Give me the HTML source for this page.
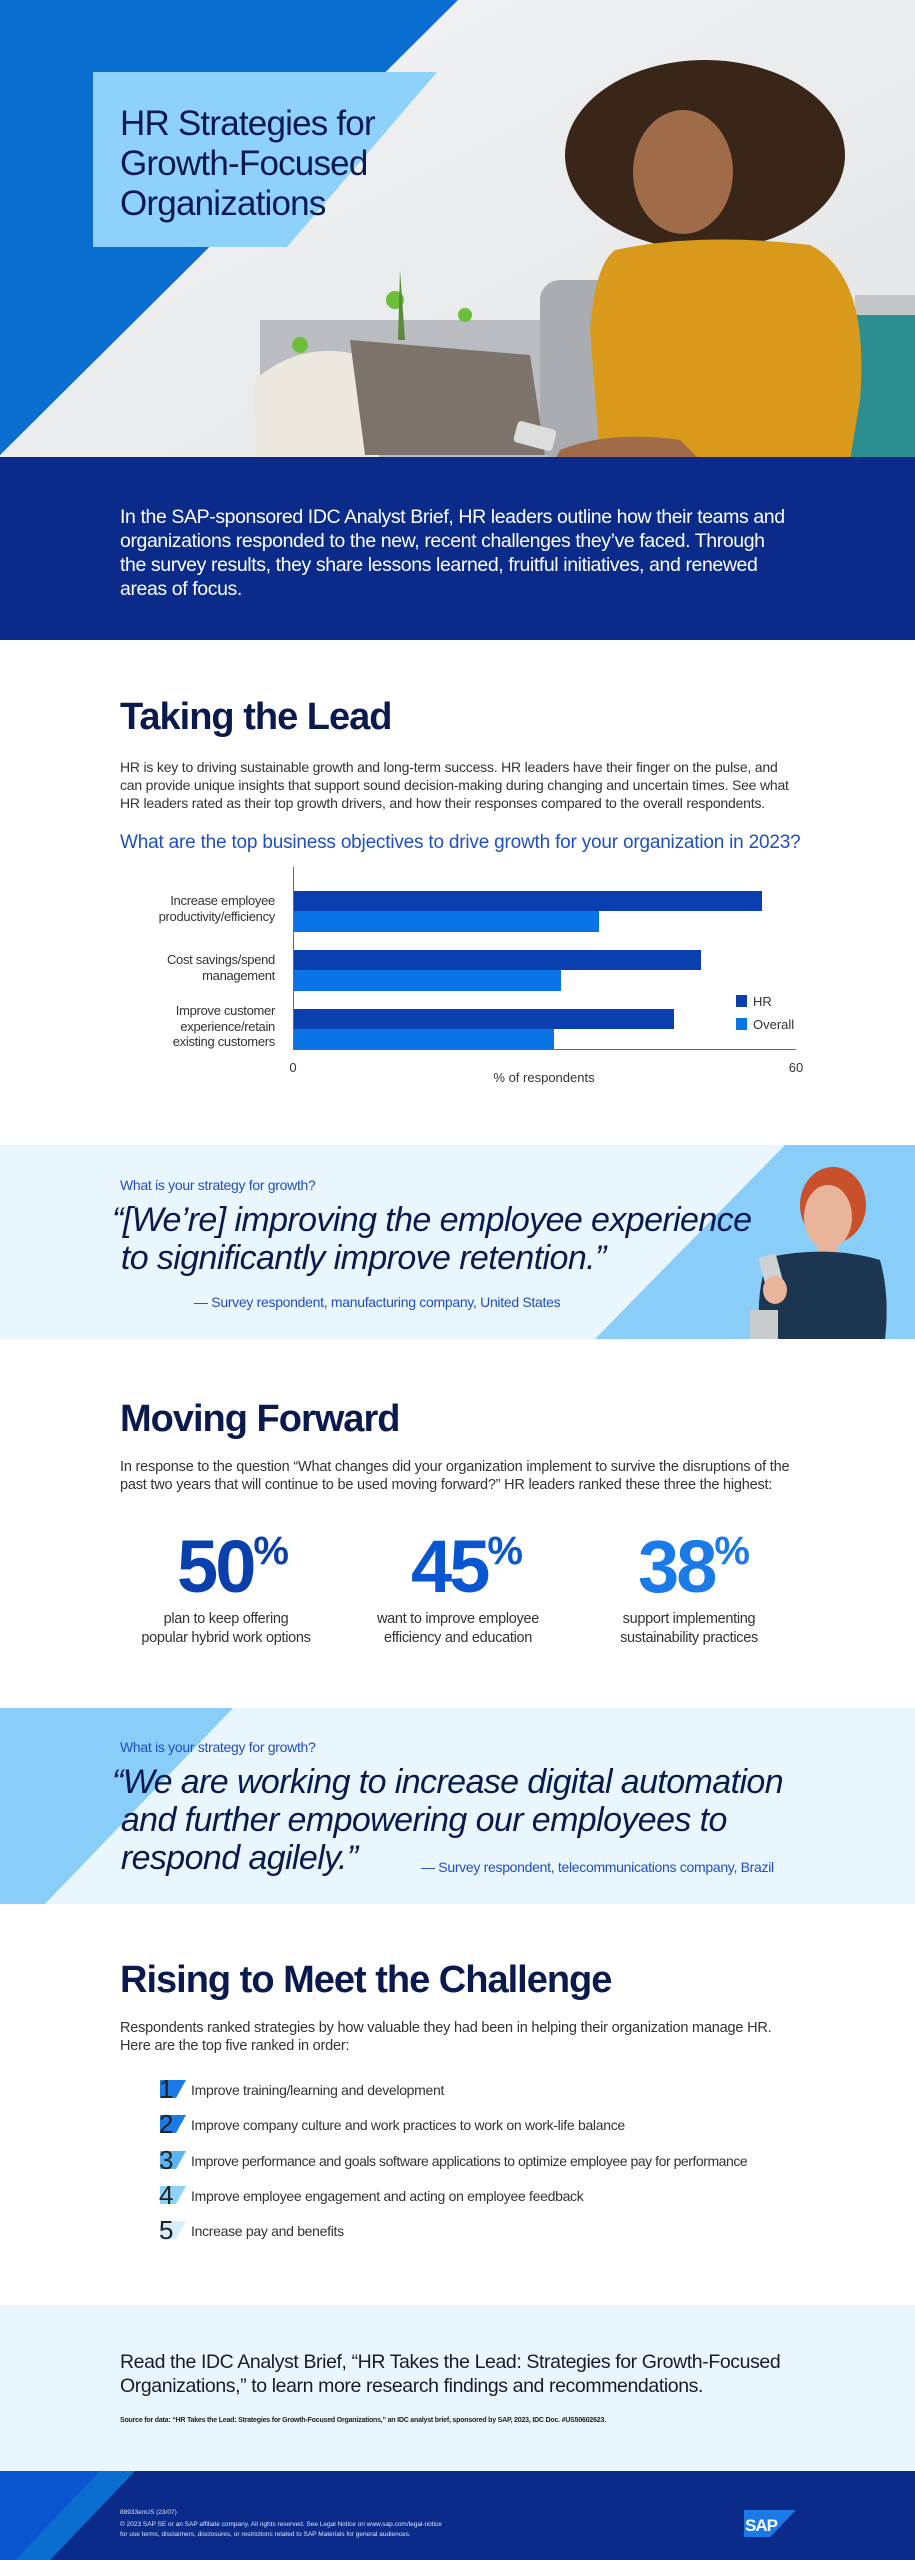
<!DOCTYPE html>
<html><head><meta charset="utf-8">
<style>
*{margin:0;padding:0;box-sizing:border-box}
body{width:915px;height:2560px;position:relative;background:#fff;font-family:"Liberation Sans",sans-serif;overflow:hidden}
.a{position:absolute;white-space:nowrap}
.h2{font-size:38px;font-weight:bold;color:#0b1a4e;letter-spacing:-1px}
.p{font-size:14px;color:#333;letter-spacing:-0.2px;line-height:18px}
.q{font-size:34px;font-style:italic;color:#0b1a4e;letter-spacing:-0.6px;line-height:38px}
.qs{font-size:14px;color:#1f4fc0;letter-spacing:-0.3px}
.lab{font-size:13px;color:#333;text-align:right;line-height:15.5px;letter-spacing:-0.3px}
.num{font-size:74px;font-weight:bold;letter-spacing:-3px;text-align:center}
.num sup{font-size:40px;vertical-align:28px;letter-spacing:0}
.cap{font-size:14.5px;color:#333;text-align:center;line-height:19px;letter-spacing:-0.3px;width:240px}
.li{font-size:14px;color:#333;letter-spacing:-0.3px}
.ln{font-size:26px;color:#222;font-weight:300}
</style></head><body>
<!-- HERO -->
<svg class="a" style="left:0;top:0" width="915" height="460">
<defs><linearGradient id="bg" x1="0" y1="0" x2="1" y2="1"><stop offset="0" stop-color="#f3f4f5"/><stop offset="1" stop-color="#e2e4e6"/></linearGradient></defs>
<rect width="915" height="460" fill="url(#bg)"/>
<rect x="260" y="320" width="655" height="140" fill="#b9bcc0"/>
<rect x="540" y="280" width="110" height="180" rx="20" fill="#a9adb2"/>
<rect x="855" y="295" width="60" height="165" fill="#c4c6c8"/>
<rect x="845" y="315" width="70" height="145" fill="#2b8f92"/>
<path d="M255 380 Q300 340 360 355 L380 460 L255 460Z" fill="#ece8e0"/>
<path d="M350 340 L530 355 L545 455 L365 455Z" fill="#7c746a"/>
<circle cx="395" cy="300" r="9" fill="#6cbf3a"/><circle cx="300" cy="345" r="8" fill="#6cbf3a"/><circle cx="465" cy="315" r="7" fill="#6cbf3a"/>
<path d="M400 270 L398 340 L405 340Z" fill="#5a8a3a"/>
<ellipse cx="705" cy="155" rx="140" ry="95" fill="#3a2618"/>
<ellipse cx="683" cy="172" rx="50" ry="62" fill="#a06b48"/>
<path d="M615 250 Q700 232 810 245 Q870 275 860 400 L850 460 L600 460 L590 330 Q595 265 615 250Z" fill="#d99a1c"/>
<path d="M560 450 Q610 430 680 440 L700 460 L555 460Z" fill="#a06b48"/>
<rect x="515" y="425" width="40" height="22" rx="4" fill="#ddd" transform="rotate(15 535 436)"/>
<polygon points="0,0 458,0 0,455" fill="#0a6ed1"/>
<polygon points="93,72 437,72 287,247 93,247" fill="#8ed1fb"/>
</svg>
<div class="a" style="left:120px;top:104px;font-size:35px;line-height:40px;color:#0b1a4e;font-weight:300;letter-spacing:-0.8px">HR Strategies for<br>Growth-Focused<br>Organizations</div>
<div class="a" style="left:0;top:457px;width:915px;height:183px;background:#0a2b8a"></div>
<div class="a" style="left:120px;top:505px;font-size:19.5px;line-height:24px;color:#fff;letter-spacing:-0.4px">In the SAP-sponsored IDC Analyst Brief, HR leaders outline how their teams and<br>organizations responded to the new, recent challenges they’ve faced. Through<br>the survey results, they share lessons learned, fruitful initiatives, and renewed<br>areas of focus.</div>

<!-- TAKING THE LEAD -->
<div class="a h2" style="left:120px;top:696px">Taking the Lead</div>
<div class="a p" style="left:120px;top:758px">HR is key to driving sustainable growth and long-term success. HR leaders have their finger on the pulse, and<br>can provide unique insights that support sound decision-making during changing and uncertain times. See what<br>HR leaders rated as their top growth drivers, and how their responses compared to the overall respondents.</div>
<div class="a" style="left:120px;top:832px;font-size:19px;color:#1f4fc0;letter-spacing:-0.2px">What are the top business objectives to drive growth for your organization in 2023?</div>
<svg class="a" style="left:0;top:860px" width="915" height="230">
<line x1="293.5" y1="7" x2="293.5" y2="190" stroke="#666" stroke-width="1"/>
<line x1="293" y1="189.5" x2="796" y2="189.5" stroke="#666" stroke-width="1"/>
<rect x="294" y="31" width="468" height="20" fill="#0a3fb0"/>
<rect x="294" y="51" width="305" height="21" fill="#0a73e6"/>
<rect x="294" y="90" width="407" height="20" fill="#0a3fb0"/>
<rect x="294" y="110" width="267" height="21" fill="#0a73e6"/>
<rect x="294" y="149" width="380" height="20" fill="#0a3fb0"/>
<rect x="294" y="169" width="260" height="20" fill="#0a73e6"/>
<rect x="736" y="135" width="11" height="12" fill="#0a3fb0"/>
<rect x="736" y="158" width="11" height="12" fill="#0a73e6"/>
<text x="753" y="146" font-size="13" fill="#333" font-family="Liberation Sans">HR</text>
<text x="753" y="169" font-size="13" fill="#333" font-family="Liberation Sans">Overall</text>
<text x="293" y="212" font-size="13" fill="#333" text-anchor="middle" font-family="Liberation Sans">0</text>
<text x="796" y="212" font-size="13" fill="#333" text-anchor="middle" font-family="Liberation Sans">60</text>
<text x="544" y="222" font-size="13" fill="#333" text-anchor="middle" font-family="Liberation Sans">% of respondents</text>
</svg>
<div class="a lab" style="right:640px;top:893px">Increase employee<br>productivity/efficiency</div>
<div class="a lab" style="right:640px;top:952px">Cost savings/spend<br>management</div>
<div class="a lab" style="right:640px;top:1003px">Improve customer<br>experience/retain<br>existing customers</div>

<!-- QUOTE 1 -->
<svg class="a" style="left:0;top:1145px" width="915" height="194">
<rect width="915" height="194" fill="#eaf6fd"/>
<polygon points="785,0 915,0 915,194 595,194" fill="#89cdf9"/>
<ellipse cx="833" cy="60" rx="33" ry="38" fill="#c8502a"/>
<ellipse cx="828" cy="72" rx="24" ry="32" fill="#e9b59a"/>
<rect x="818" y="95" width="20" height="20" fill="#e9b59a"/>
<path d="M770 112 Q828 100 880 115 Q890 150 885 194 L760 194 Q755 140 770 112Z" fill="#1c3550"/>
<rect x="762" y="110" width="18" height="32" rx="3" fill="#cfd2d2" transform="rotate(-15 771 126)"/>
<ellipse cx="775" cy="145" rx="12" ry="14" fill="#e9b59a"/>
<rect x="750" y="165" width="28" height="29" fill="#c8cccc"/>
</svg>
<div class="a qs" style="left:120px;top:1177px">What is your strategy for growth?</div>
<div class="a q" style="left:112px;top:1201px">“[We’re] improving the employee experience<br>&nbsp;to significantly improve retention.”</div>
<div class="a qs" style="left:194px;top:1294px">— Survey respondent, manufacturing company, United States</div>

<!-- MOVING FORWARD -->
<div class="a h2" style="left:120px;top:1398px">Moving Forward</div>
<div class="a p" style="left:120px;top:1458px;font-size:14.5px">In response to the question “What changes did your organization implement to survive the disruptions of the<br>past two years that will continue to be used moving forward?” HR leaders ranked these three the highest:</div>
<div class="a num" style="left:113px;top:1524px;width:240px;color:#0a3fae">50<sup>%</sup></div>
<div class="a num" style="left:347px;top:1524px;width:240px;color:#0a56d0">45<sup>%</sup></div>
<div class="a num" style="left:574px;top:1524px;width:240px;color:#1a7ae8">38<sup>%</sup></div>
<div class="a cap" style="left:106px;top:1610px">plan to keep offering<br>popular hybrid work options</div>
<div class="a cap" style="left:338px;top:1610px">want to improve employee<br>efficiency and education</div>
<div class="a cap" style="left:569px;top:1610px">support implementing<br>sustainability practices</div>

<!-- QUOTE 2 -->
<svg class="a" style="left:0;top:1708px" width="915" height="196">
<rect width="915" height="196" fill="#eaf6fd"/>
<polygon points="0,0 233,0 45,196 0,196" fill="#89cdf9"/>
</svg>
<div class="a qs" style="left:120px;top:1739px">What is your strategy for growth?</div>
<div class="a q" style="left:112px;top:1763px">“We are working to increase digital automation<br>&nbsp;and further empowering our employees to<br>&nbsp;respond agilely.”</div>
<div class="a qs" style="left:421px;top:1859px">— Survey respondent, telecommunications company, Brazil</div>

<!-- RISING -->
<div class="a h2" style="left:120px;top:1959px">Rising to Meet the Challenge</div>
<div class="a p" style="left:120px;top:2019px;font-size:14.5px">Respondents ranked strategies by how valuable they had been in helping their organization manage HR.<br>Here are the top five ranked in order:</div>
<svg class="a" style="left:158px;top:2076px" width="30" height="170">
<polygon points="2,4 28,4 18,22 2,22" fill="#1a7ae8"/>
<polygon points="2,39 28,39 18,57 2,57" fill="#1a7ae8"/>
<polygon points="2,75 28,75 18,93 2,93" fill="#5ab4f5"/>
<polygon points="2,110 28,110 18,128 2,128" fill="#8ed1fb"/>
<polygon points="2,145 28,145 18,163 2,163" fill="#d5eefc"/>
</svg>
<div class="a ln" style="left:159px;top:2074px">1</div>
<div class="a ln" style="left:159px;top:2109px">2</div>
<div class="a ln" style="left:159px;top:2145px">3</div>
<div class="a ln" style="left:159px;top:2180px">4</div>
<div class="a ln" style="left:159px;top:2215px">5</div>
<div class="a li" style="left:191px;top:2082px">Improve training/learning and development</div>
<div class="a li" style="left:191px;top:2117px">Improve company culture and work practices to work on work-life balance</div>
<div class="a li" style="left:191px;top:2153px;letter-spacing:-0.45px">Improve performance and goals software applications to optimize employee pay for performance</div>
<div class="a li" style="left:191px;top:2188px">Improve employee engagement and acting on employee feedback</div>
<div class="a li" style="left:191px;top:2223px">Increase pay and benefits</div>

<!-- CTA -->
<div class="a" style="left:0;top:2305px;width:915px;height:167px;background:#eaf6fd"></div>
<div class="a" style="left:120px;top:2350px;font-size:19.5px;line-height:24px;color:#1a1a2e;letter-spacing:-0.4px">Read the IDC Analyst Brief, “HR Takes the Lead: Strategies for Growth-Focused<br>Organizations,” to learn more research findings and recommendations.</div>
<div class="a" style="left:120px;top:2417px;font-size:7px;color:#222;font-weight:bold;letter-spacing:-0.2px">Source for data: “HR Takes the Lead: Strategies for Growth-Focused Organizations,” an IDC analyst brief, sponsored by SAP, 2023, IDC Doc. #US50602623.</div>

<!-- FOOTER -->
<svg class="a" style="left:0;top:2471px" width="915" height="89">
<rect width="915" height="89" fill="#0a2b8a"/>
<polygon points="0,0 135,0 50,89 0,89" fill="#0a56d0"/>
<polygon points="100,0 135,0 50,89 15,89" fill="#0a6ed1"/>
<polygon points="744,39 796,39 770,66 744,66" fill="#1a7ae8"/>
<text x="745" y="60" font-size="17" font-weight="bold" fill="#fff" font-family="Liberation Sans" letter-spacing="-1">SAP</text>
</svg>
<div class="a" style="left:120px;top:2508px;font-size:6.5px;line-height:9px;color:#dfe6f5">88933enUS (23/07)</div>
<div class="a" style="left:120px;top:2520px;font-size:6.5px;line-height:9.5px;color:#dfe6f5">© 2023 SAP SE or an SAP affiliate company. All rights reserved. See Legal Notice on www.sap.com/legal-notice<br>for use terms, disclaimers, disclosures, or restrictions related to SAP Materials for general audiences.</div>
</body></html>
